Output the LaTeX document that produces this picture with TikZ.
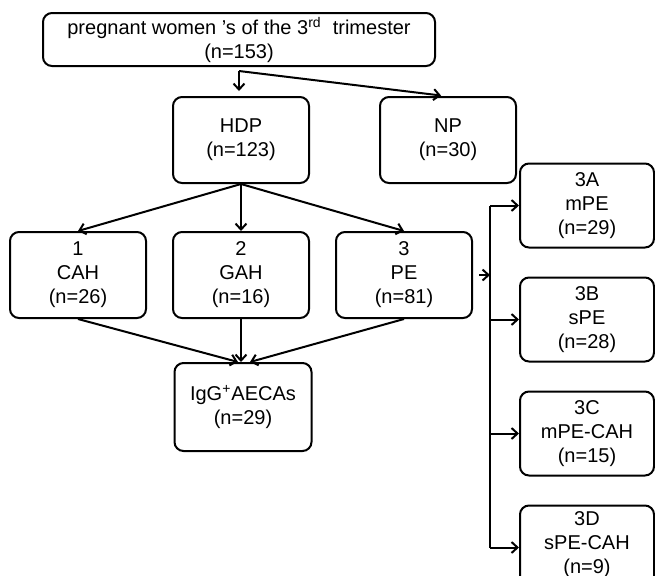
\documentclass[tikz,border=0pt]{standalone}
\usepackage{fontspec}
\setmainfont{Liberation Sans}
\usetikzlibrary{arrows.meta,positioning}

\begin{document}
\begin{tikzpicture}[x=0.5pt,y=-0.5pt,
      box/.style={draw,line width=1pt,rounded corners=4.5pt,minimum width=68pt,minimum height=43pt,
                  inner sep=0pt,align=center,font=\fontsize{10}{12}\selectfont},
      sub/.style={box,minimum width=67pt,minimum height=42pt},
      arr/.style={-{Straight Barb[length=3pt,width=5.5pt]},line width=1pt},
      br/.style={line width=1pt},
  ]
  \useasboundingbox (0,0) rectangle (655,575);
  \clip (0,0) rectangle (655,575);

  % Top box
  \node[box,minimum width=196pt,minimum height=26.5pt,text height=19pt,text depth=0pt] (preg) at (239,39.5)
    {pregnant women 's of the 3\textsuperscript{rd}\ \ trimester\\(n=153)};

  % HDP / NP
  \node[box] (hdp) at (241,140) {HDP\\(n=123)};
  \node[box,right=34.5pt of hdp] (np) {NP\\(n=30)};

  % Subgroups of HDP
  \node[box] (gah) at (241,275) {2\\GAH\\(n=16)};
  \node[box,left=12.5pt of gah] (cah) {1\\CAH\\(n=26)};
  \node[box,right=12.5pt of gah] (pe) {3\\PE\\(n=81)};
  \node[box,minimum width=68.5pt,minimum height=44pt] (igg) at (243,407) {IgG\textsuperscript{+}AECAs\\(n=29)};

  % Subgroups of PE
  \node[sub] (mpe) at (587,205.5) {3A\\mPE\\(n=29)};
  \node[sub,below=14pt of mpe] (spe) {3B\\sPE\\(n=28)};
  \node[sub,below=14pt of spe] (mpecah) {3C\\mPE-CAH\\(n=15)};
  \node[sub,below=14pt of mpecah,text height=28pt,text depth=2.5pt] (specah) {3D\\sPE-CAH\\(n=9)};

  % Arrows from the top
  \coordinate (split) at ([yshift=-2pt]preg.south);
  \draw[arr,shorten >=2.5pt] (split) -- (split |- hdp.north);
  \draw[arr,shorten >=2pt] (split) -- ([xshift=-1.5pt]np.north);

  \draw[arr] (hdp.south) -- (cah.north);
  \draw[arr] (hdp.south) -- (gah.north);
  \draw[arr] (hdp.south) -- (pe.north);

  \draw[arr] (cah.south) -- ([xshift=-2.5pt]igg.north);
  \draw[arr] (gah.south) -- (gah.south |- igg.north);
  \draw[arr] (pe.south) -- ([xshift=3.5pt]igg.north);

  % Bracket to the PE subgroups
  \coordinate (bra) at (490,0);
  \draw[br] (bra |- mpe.west) -- (bra |- specah.west);
  \draw[arr] ([xshift=3pt]pe.east) -- (bra |- pe.east);
  \draw[arr] (bra |- mpe.west) -- (mpe.west);
  \draw[arr] (bra |- spe.west) -- (spe.west);
  \draw[arr] (bra |- mpecah.west) -- (mpecah.west);
  \draw[arr] (bra |- specah.west) -- (specah.west);
\end{tikzpicture}
\end{document}
